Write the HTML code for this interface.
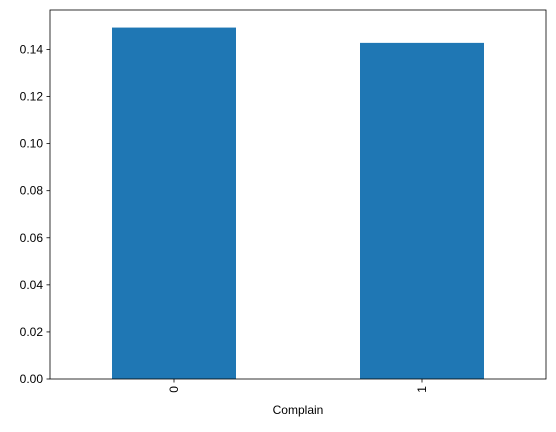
<!DOCTYPE html>
<html><head><meta charset="utf-8"><style>
body{margin:0;background:#fff;}
svg text{font-family:"Liberation Sans","DejaVu Sans",sans-serif;font-size:12px;fill:#000;}
</style></head><body>
<svg id="chart" width="556" height="427"></svg>
<script>
const categories = ["0","1"];
const values = [0.1493, 0.1428];
const yTicks = [0,0.02,0.04,0.06,0.08,0.10,0.12,0.14];
const yTickLabels = ["0.00","0.02","0.04","0.06","0.08","0.10","0.12","0.14"];
const xLabel = "Complain";

const NS="http://www.w3.org/2000/svg";
const svg=document.getElementById('chart');
const L=50,R=546,T=10,B=379;
const yMax=Math.max(...values)*1.05;
const y=v=>B-(v/yMax)*(B-T);
const x=i=>L+(i+0.5)/categories.length*(R-L);
const bw=0.5/categories.length*(R-L);
function mk(tag,attrs){const e=document.createElementNS(NS,tag);for(const k in attrs)e.setAttribute(k,attrs[k]);svg.appendChild(e);return e;}

values.forEach((v,i)=>{
  const r=mk('rect',{x:x(i)-bw/2,y:y(v),width:bw,height:B-y(v),fill:'#1f77b4'});
  
  
});
const frame=mk('rect',{x:L,y:T,width:R-L,height:B-T,fill:'none',stroke:'#000','stroke-width':0.8});



yTicks.forEach((t,i)=>{
  const yy=y(t);
  mk('line',{x1:L-3.5,x2:L,y1:yy,y2:yy,stroke:'#000','stroke-width':0.8});
  const tx=mk('text',{x:L-7,y:yy+4,'text-anchor':'end'});
  tx.textContent=yTickLabels[i];
  
  
});
categories.forEach((c,i)=>{
  const xx=x(i);
  mk('line',{x1:xx,x2:xx,y1:B,y2:B+3.5,stroke:'#000','stroke-width':0.8});
  const tx=mk('text',{x:xx+4,y:B+7,'text-anchor':'end',transform:`rotate(-90 ${xx+4} ${B+7})`});
  tx.textContent=c;
  
  
});
const xt=mk('text',{x:(L+R)/2,y:414,'text-anchor':'middle'});
xt.textContent=xLabel;


</script>
</body></html>
